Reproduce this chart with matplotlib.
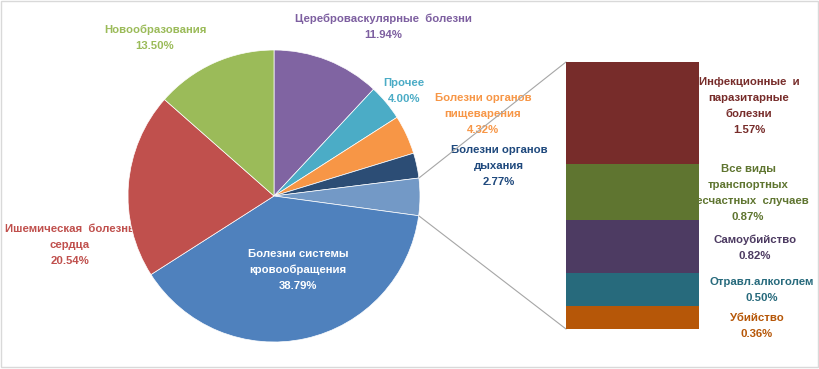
import numpy as np
import matplotlib.pyplot as plt
from matplotlib.patches import ConnectionPatch, Rectangle

plt.rcParams['font.family'] = ['Liberation Sans', 'DejaVu Sans']

# %% Data
pie_labels = ['Цереброваскулярные  болезни', 'Прочее', 'Болезни органов\nпищеварения',
              'Болезни органов\nдыхания', 'other',
              'Болезни системы\nкровообращения', 'Ишемическая  болезнь\nсердца',
              'Новообразования']
pie_values = [11.94, 4.00, 4.32, 2.77, None, 38.79, 20.54, 13.50]
pie_colors = ['#8064A2', '#4BACC6', '#F79646', '#2C4D75', '#7399C6',
              '#4F81BD', '#C0504D', '#9BBB59']
pie_text_colors = ['#7D5FA0', '#4BACC6', '#F79646', '#1F497D', None,
                   'white', '#C0504D', '#9BBB59']

bar_labels = ['Инфекционные  и\nпаразитарные\nболезни', 'Все виды\nтранспортных\nНесчастных  случаев',
              'Самоубийство', 'Отравл.алкоголем', 'Убийство']
bar_values = [1.57, 0.87, 0.82, 0.50, 0.36]
bar_colors = ['#772C2A', '#5F7530', '#4D3B62', '#276A7C', '#B65708']
bar_text_colors = ['#772C2A', '#5F7530', '#4D3B62', '#276A7C', '#B65708']

other_total = sum(bar_values)
pie_values[4] = other_total

# label positions in pixels (x, y of the text block centre)
pie_label_pos = [(383, 27), (404, 91), (483, 114), (499, 166), None,
                 (298, 270), (70, 245), (155, 38)]
bar_label_pos = [(749, 106), (748, 193), (755, 248), (762, 290), (757, 326)]

# %% Figure
W, H = 820, 369
fig = plt.figure(figsize=(W / 100, H / 100), dpi=100)

bg = fig.add_axes([0, 0, 1, 1], zorder=0)
bg.set_xlim(0, W)
bg.set_ylim(H, 0)
bg.axis('off')
bg.add_patch(Rectangle((1, 1), W - 3, H - 3, fill=False, edgecolor='#D9D9D9', lw=1))

# pie
cx, cy, r = 274, 196, 146
ax_pie = fig.add_axes([(cx - r) / W, (H - cy - r) / H, 2 * r / W, 2 * r / H], zorder=2)
wedges, _ = ax_pie.pie(pie_values, colors=pie_colors, startangle=90, counterclock=False,
                       wedgeprops=dict(edgecolor='white', linewidth=0.5))
ax_pie.set_xlim(-1, 1)
ax_pie.set_ylim(-1, 1)
ax_pie.axis('off')

# bar of the "other" slice
bx0, bx1, by0, by1 = 566, 699, 62, 329
ax_bar = fig.add_axes([bx0 / W, (H - by1) / H, (bx1 - bx0) / W, (by1 - by0) / H], zorder=2)
bottom = 0
for v, c in zip(bar_values[::-1], bar_colors[::-1]):
    ax_bar.bar(0, v, width=1, bottom=bottom, color=c)
    bottom += v
ax_bar.set_xlim(-0.5, 0.5)
ax_bar.set_ylim(0, other_total)
ax_bar.axis('off')

# connector lines
w = wedges[4]
for ang, yb in [(w.theta2, other_total), (w.theta1, 0)]:
    xa, ya = np.cos(np.radians(ang)), np.sin(np.radians(ang))
    con = ConnectionPatch(xyA=(-0.5, yb), coordsA=ax_bar.transData,
                          xyB=(xa, ya), coordsB=ax_pie.transData,
                          color='#A6A6A6', lw=0.8)
    fig.add_artist(con)

# labels
fs = 8.2
ls = 1.72
for lab, v, col, pos in zip(pie_labels, pie_values, pie_text_colors, pie_label_pos):
    if pos is None:
        continue
    t = lab + '\n' + f'{v:.2f}%'
    if col == 'white':
        fig.text(pos[0] / W, 1 - pos[1] / H, t, color=col, fontsize=fs, fontweight='bold',
                 ha='center', va='center', linespacing=ls, zorder=5)
    else:
        bg.text(pos[0], pos[1], t, color=col, fontsize=fs, fontweight='bold',
                ha='center', va='center', linespacing=ls)

for lab, v, col, pos in zip(bar_labels, bar_values, bar_text_colors, bar_label_pos):
    bg.text(pos[0], pos[1], lab + '\n' + f'{v:.2f}%', color=col, fontsize=fs,
            fontweight='bold', ha='center', va='center', linespacing=ls)

fig.savefig('out.png', dpi=100)
